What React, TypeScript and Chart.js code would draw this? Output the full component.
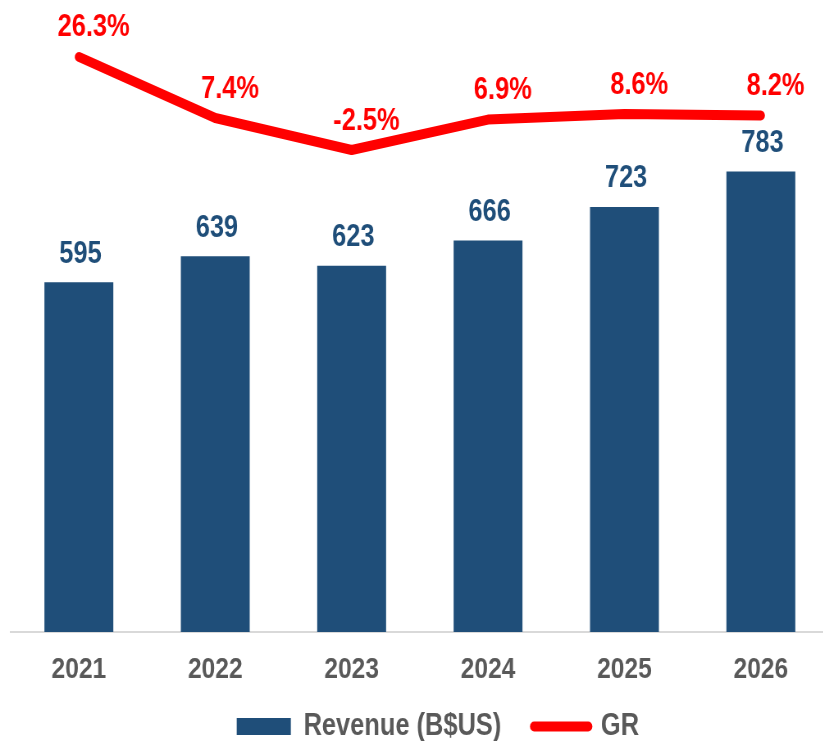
import React, { useEffect, useRef } from "react";
import { Chart, registerables } from "chart.js";

Chart.register(...registerables);

const years = ["2021", "2022", "2023", "2024", "2025", "2026"];
const revenue = [595, 639, 623, 666, 723, 783];
const growth = [26.3, 7.4, -2.5, 6.9, 8.6, 8.2];
const growthLabels = ["26.3%", "7.4%", "-2.5%", "6.9%", "8.6%", "8.2%"];

// Arial Narrow look: Liberation Sans Bold drawn on a canvas squeezed horizontally
const SQUEEZE = 0.82;
const INNER_W = 1012;
const H = 741;
const FONT = "'Liberation Sans', Arial, sans-serif";
const BLUE = "#1f4e79";
const RED = "#ff0000";
const GREY = "#595959";

const labelPlugin = {
  id: "valueLabels",
  afterLayout(chart: any) {
    const lg = chart.legend;
    if (lg) {
      lg.top -= 19;
      lg.bottom = H;
      lg.left += 22;
      lg.right += 22;
    }
    const xs = chart.scales.x;
    if (xs) xs.bottom = H;
  },
  afterDatasetsDraw(chart: any) {
    const ctx = chart.ctx;
    ctx.save();
    ctx.textAlign = "center";
    ctx.textBaseline = "middle";
    ctx.font = `bold 31px ${FONT}`;
    const barMeta = chart.getDatasetMeta(0);
    barMeta.data.forEach((el: any, i: number) => {
      ctx.fillStyle = BLUE;
      ctx.fillText(String(revenue[i]), el.x + 2, el.y - 28);
    });
    const lineMeta = chart.getDatasetMeta(1);
    lineMeta.data.forEach((el: any, i: number) => {
      ctx.fillStyle = RED;
      ctx.fillText(growthLabels[i], el.x + 18, el.y - 29);
    });
    ctx.restore();
  },
};

export default function App() {
  const ref = useRef<HTMLCanvasElement | null>(null);
  useEffect(() => {
    if (!ref.current) return;
    const chart = new Chart(ref.current, {
      type: "bar",
      data: {
        labels: years,
        datasets: [
          {
            type: "bar",
            label: "Revenue (B$US)",
            data: revenue,
            backgroundColor: BLUE,
            borderWidth: 0,
            categoryPercentage: 1,
            barPercentage: 0.505,
            yAxisID: "y",
          } as any,
          {
            type: "line",
            label: "GR",
            data: growth,
            borderColor: RED,
            backgroundColor: RED,
            borderWidth: 10,
            borderCapStyle: "round",
            borderJoinStyle: "round",
            pointRadius: 0,
            tension: 0,
            yAxisID: "y2",
          } as any,
        ],
      },
      options: {
        animation: false,
        responsive: false,
        devicePixelRatio: 1,
        layout: { padding: { top: 44, left: 13, right: 1, bottom: 0 } },
        plugins: {
          tooltip: { enabled: false },
          legend: {
            position: "bottom",
            maxHeight: 51,
            labels: {
              usePointStyle: true,
              pointStyleWidth: 66,
              boxHeight: 17,
              padding: 40,
              color: GREY,
              font: { family: FONT, size: 31, weight: "bold" },
              generateLabels: () => [
                {
                  text: "Revenue (B$US)",
                  fillStyle: BLUE,
                  strokeStyle: BLUE,
                  lineWidth: 0,
                  pointStyle: "rect",
                  datasetIndex: 0,
                  fontColor: GREY,
                  hidden: false,
                },
                {
                  text: "GR",
                  fillStyle: RED,
                  strokeStyle: RED,
                  lineWidth: 10,
                  lineCap: "round",
                  pointStyle: "line",
                  datasetIndex: 1,
                  fontColor: GREY,
                  hidden: false,
                },
              ],
            },
          },
        },
        scales: {
          x: {
            grid: { display: false, drawTicks: false },
            border: { display: true, color: "#d9d9d9", width: 2 },
            ticks: {
              color: GREY,
              padding: 20,
              maxRotation: 0,
              autoSkip: false,
              font: { family: FONT, size: 30, weight: "bold" },
            },
            afterFit: (scale: any) => {
              scale.height = 58;
            },
          },
          y: { display: false, min: 0, max: 1000 },
          y2: { display: false, min: -151.7, max: 30.3 },
        },
      },
      plugins: [labelPlugin],
    } as any);
    return () => chart.destroy();
  }, []);
  return (
    <div
      style={{
        position: "absolute",
        left: 0,
        top: 0,
        width: 823,
        height: H,
        overflow: "hidden",
        background: "#fff",
      }}
    >
      <div
        style={{
          width: INNER_W,
          height: H,
          transform: `scaleX(${SQUEEZE})`,
          transformOrigin: "0 0",
        }}
      >
        <canvas
          ref={ref}
          width={INNER_W}
          height={H}
          style={{ display: "block", width: INNER_W, height: H }}
        />
      </div>
    </div>
  );
}
